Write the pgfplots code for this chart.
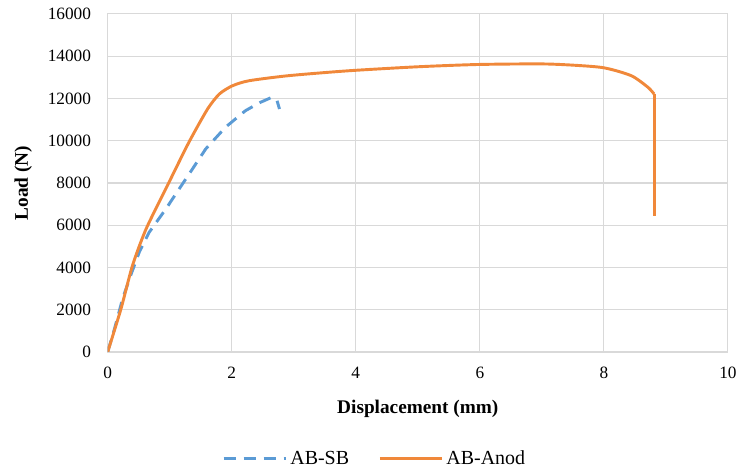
\documentclass[border=0pt]{standalone}
\usepackage{pgfplots}
\pgfplotsset{compat=1.18}
\usepackage{fontspec}
\setmainfont{Liberation Serif}

\definecolor{sbblue}{HTML}{5B9BD5}
\definecolor{anodorange}{HTML}{F0883A}
\definecolor{gridgray}{HTML}{D9D9D9}

\begin{document}
\begin{tikzpicture}
\begin{axis}[
    name=ax,
    scale only axis,
    width=466.5pt, height=254.25pt,
    xmin=0, xmax=10, ymin=0, ymax=16000,
    xtick={0,2,...,10},
    ytick={0,2000,...,16000},
    scaled ticks=false,
    /pgf/number format/1000 sep={},
    /pgf/number format/assume math mode=true,
    grid=major,
    major grid style={gridgray, line width=0.8pt},
    axis line style={gridgray, line width=0.8pt},
    tick style={draw=none},
    ticklabel style={font=\fontsize{13}{15}\selectfont},
    xticklabel style={yshift=-8pt},
    yticklabel style={xshift=-9pt},
    xlabel={\textbf{Displacement (mm)}},
    ylabel={\textbf{Load (N)}},
    label style={font=\fontsize{14.5}{16}\selectfont},
    xlabel style={at={(axis description cs:0.5,-0.168)}, anchor=center},
    ylabel style={at={(axis description cs:-0.136,0.5)}, anchor=center},
    legend columns=2,
    legend style={at={(axis description cs:0.431,-0.315)}, anchor=center, draw=none,
        inner sep=0pt,
        font=\fontsize{15}{17}\selectfont,
        nodes={inner sep=2pt},
        /tikz/every even column/.append style={column sep=20pt}},
    legend image code/.code={\draw[#1] (0pt,0pt) -- (47pt,0pt);},
]
\addplot[sbblue, line width=2.2pt, dash pattern=on 9pt off 6pt] coordinates {
    (0,0) (0.11,1100) (0.24,2520) (0.38,3700) (0.51,4730) (0.67,5670)
    (0.94,6780) (1.26,8190) (1.58,9610) (1.90,10640) (2.22,11420)
    (2.45,11800) (2.65,12060) (2.73,11900) (2.77,11500)
};
\addlegendentry{AB-SB}
\addplot[anodorange, line width=2.2pt, smooth, tension=0.4] coordinates {
    (0,0) (0.215,2050) (0.40,4095) (0.62,5830) (0.99,8040) (1.31,9930)
    (1.61,11500) (1.80,12210) (2.01,12600) (2.28,12840) (2.92,13080)
    (3.88,13310) (5.0,13500) (6.0,13610) (7.1,13630) (7.96,13470)
    (8.44,13080) (8.71,12530) (8.81,12210)
};
\addlegendentry{AB-Anod}
\addplot[anodorange, line width=2.2pt, forget plot] coordinates {
    (8.81,12210) (8.81,6460)
};
\end{axis}
\path ([shift={(-81pt,-87.75pt)}]ax.south west) rectangle ([shift={(8.25pt,10.5pt)}]ax.north east);
\end{tikzpicture}
\end{document}
